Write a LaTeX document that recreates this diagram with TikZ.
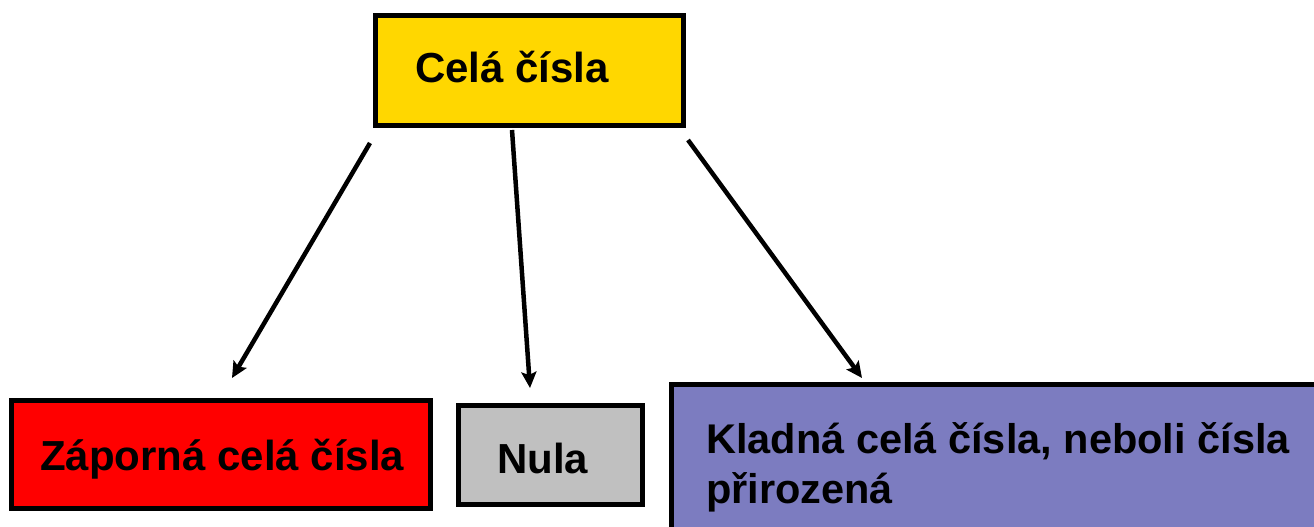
\documentclass[tikz,border=0pt]{standalone}
\usepackage{fontspec}
\setmainfont{Liberation Sans}
\usetikzlibrary{arrows.meta}
\definecolor{goldfill}{RGB}{255,215,0}
\definecolor{redfill}{RGB}{255,0,0}
\definecolor{grayfill}{RGB}{192,192,192}
\definecolor{bluefill}{RGB}{124,124,192}
\tikzset{
  boxstyle/.style={draw=black, line width=5pt, rectangle, inner sep=0pt, outer sep=0pt},
  labelstyle/.style={anchor=base west, inner sep=0pt, font=\fontsize{42}{50}\selectfont\bfseries},
  arr/.style={line width=4.5pt, -{Stealth[length=16pt,width=15pt,inset=3pt]}}
}
\begin{document}
\begin{tikzpicture}[x=1pt,y=-1pt]
\useasboundingbox (0,0) rectangle (1314,527);
\node[boxstyle, fill=goldfill, minimum width=308pt, minimum height=110pt] (top) at (529.5,70.5) {};
\node[boxstyle, fill=redfill, minimum width=419pt, minimum height=108pt] (neg) at (221,454.5) {};
\node[boxstyle, fill=grayfill, minimum width=184pt, minimum height=99pt, line width=4.5pt] (zero) at (550.5,455) {};
\node[boxstyle, fill=bluefill, minimum width=648pt, minimum height=150pt] (pos) at (995.5,459.5) {};
\node[labelstyle] (toptext) at (415,82) {Celá čísla};
\node[labelstyle] (negtext) at (40,470) {Záporná celá čísla};
\node[labelstyle] (zerotext) at (497,473) {Nula};
\node[labelstyle, font=\fontsize{41.5}{50}\selectfont\bfseries] (postext1) at (706,453) {Kladná celá čísla, neboli čísla};
\node[labelstyle, font=\fontsize{41.5}{50}\selectfont\bfseries] (postext2) at (706,503) {přirozená};
\coordinate (s1) at (370,143);
\coordinate (e1) at (232,378);
\coordinate (s2) at (512,130);
\coordinate (e2) at (530,388);
\coordinate (s3) at (688,140);
\coordinate (e3) at (862,378);
\draw[arr] (s1) -- (e1);
\draw[arr] (s2) -- (e2);
\draw[arr] (s3) -- (e3);
\end{tikzpicture}
\end{document}
